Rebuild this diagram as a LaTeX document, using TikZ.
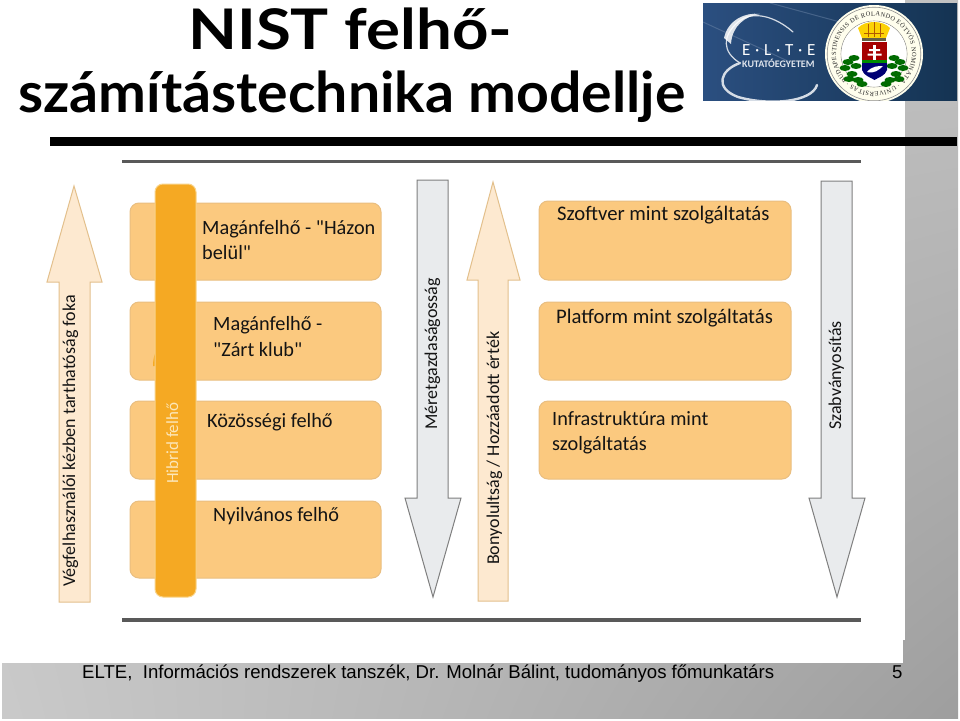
\documentclass[tikz,border=0pt]{standalone}
\usepackage{fontspec}
\setmainfont{Carlito}
\newfontfamily\carlito{Carlito}
\newfontfamily\titlefont{Lato}
\newfontfamily\footfont{Liberation Sans}
\newfontfamily\sealfont{Liberation Serif}
\usetikzlibrary{decorations.text,shadings}
\definecolor{boxfill}{HTML}{FBC97F}
\definecolor{boxline}{HTML}{E9BE80}
\definecolor{upfill}{HTML}{FDE9D0}
\definecolor{upline}{HTML}{E3C08C}
\definecolor{downfill}{HTML}{E9EBED}
\definecolor{downline}{HTML}{7F7F7F}
\definecolor{hybrid}{HTML}{F5A923}
\definecolor{hybridline}{HTML}{F9D48A}
\definecolor{hybridtext}{HTML}{FCE6B8}
\definecolor{rulegray}{HTML}{595959}
\definecolor{navyA}{HTML}{2B4F80}
\definecolor{navyB}{HTML}{143352}
\definecolor{txt}{HTML}{141414}
\tikzset{
  x=1pt,y=-1pt,
  cloudbox/.style={draw=boxline,line width=1pt,fill=boxfill,rounded corners=9pt},
  uparrow/.style={draw=upline,line width=1pt,fill=upfill,line join=miter},
  downarrow/.style={draw=downline,line width=1pt,fill=downfill,line join=miter},
  label/.style={anchor=base west,inner sep=0pt,text=txt,font=\carlito\fontsize{20.3}{24}\selectfont},
  widelabel/.style={label,font=\carlito\fontsize{20.7}{24}\selectfont},
  vlabel/.style={anchor=base west,inner sep=0pt,rotate=90,text=txt,font=\carlito\fontsize{18}{20}\selectfont},
  titletext/.style={anchor=base west,inner sep=0pt,text=black,font=\titlefont\bfseries\fontsize{56}{60}\selectfont},
  foottext/.style={anchor=base west,inner sep=0pt,text=black,font=\footfont\fontsize{18.6}{22}\selectfont},
}
\begin{document}
\begin{tikzpicture}
\useasboundingbox (0,0) rectangle (960,720);
% background
\fill[white] (0,0) rectangle (960,720);
\shade[lower left=black!21,upper left=black!25,upper right=black!24,lower right=black!38] (2,0) rectangle (958,718);
\fill[white] (2,0) rectangle (905,640);
\fill[white] (2,640) rectangle (903,663);
% logo
\shade[left color=navyA,right color=navyB] (703,3) rectangle (957,100);
\begin{scope}
\clip (703,3) rectangle (957,100);
\draw[navyA!70!white,line width=1pt,opacity=.5] (703,22) -- (790,62);
\draw[navyA!70!white,line width=1pt,opacity=.5] (770,3) -- (840,22);
\draw[white!80!navyA,line width=1.2pt,line cap=round]
  (793,32) .. controls (775,16) and (752,10) .. (738,22) .. controls (722,36) and (722,52) .. (740,63);
\draw[white!80!navyA,line width=2.4pt,line cap=round]
  (740,63) .. controls (720,70) and (714,88) .. (738,97) .. controls (770,106) and (812,102) .. (817,85);
\fill[white,opacity=.85] (724,38) .. controls (728,20) and (745,12) .. (760,14) .. controls (745,16) and (732,26) .. (731,44) -- cycle;
% seal
\fill[white!93!yellow] (874,54) circle (49);
\draw[black!45,line width=.6pt] (874,54) circle (46.8);
\draw[black!45,line width=.6pt] (874,54) circle (33);
\fill[white] (874,54) circle (32.6);
\path[postaction={decorate},decoration={text along path,text align={fit to path},
  text={|\sealfont\fontsize{6.4}{7}\selectfont\color{black!85}|BUDAPESTINENSIS DE ROLANDO EÖTVÖS NOMINATA · UNIVERSITAS ·}}]
  (874,54) ++(135:38) arc[start angle=135,end angle=493,radius=38];
% crown
\fill[yellow!70!orange] (862,38) -- (858,28) .. controls (865,20) and (883,20) .. (890,28) -- (886,38) -- cycle;
\draw[orange!70!black,line width=.5pt] (864,33)--(884,33) (868,24)--(868,37) (874,22)--(874,37) (880,24)--(880,37);
\fill[black!70!yellow] (862,38) rectangle (886,41);
% wreath
\foreach \a/\b in {845/68,848/62,852/74,856/66,849/79,858/80,854/58,862/84}
  \fill[green!42!black] (\a,\b) ellipse (5.5 and 3);
\foreach \a/\b in {903/68,900/62,896/74,892/66,899/79,890/80,894/58,886/84}
  \fill[green!42!black] (\a,\b) ellipse (5.5 and 3);
% shield
\fill[red!65!black] (862,42) rectangle (887,60);
\fill[white] (873.2,45) rectangle (875.8,60) (869,49) rectangle (880,51) (867.5,53.5) rectangle (881.5,55.5);
\fill[green!55!black] (862,60) rectangle (887,63);
\fill[blue!45!black] (862,63) -- (887,63) -- (887,70) .. controls (885,76) and (879,77) .. (874.5,80) .. controls (870,77) and (864,76) .. (862,70) -- cycle;
\fill[white] (867,72) .. controls (872,66) and (878,66) .. (883,66) .. controls (879,70) and (874,74) .. (867,72) -- cycle;
\end{scope}
\node[anchor=base west,inner sep=0pt,text=white,font=\carlito\fontsize{17}{18}\selectfont] (logoname) at (742,55) {E\;·\;L\;·\;T\;·\;E};
\node[anchor=base west,inner sep=0pt,text=white!85!navyA,font=\carlito\bfseries\fontsize{10}{11}\selectfont] (logosub) at (742,67) {KUTATÓEGYETEM};
% title
\node[titletext] (title1) at (188,49) {\resizebox{324pt}{\height}{NIST felhő-}};
\node[titletext] (title2) at (18,112) {\resizebox{667pt}{\height}{számítástechnika modellje}};
% rules
\fill[black] (50,137) rectangle (957,146);
\fill[rulegray] (122,160) rectangle (861,163);
\fill[rulegray] (122,618) rectangle (861,622);
% left boxes
\draw[cloudbox] (130,203) rectangle (381,280);
\draw[cloudbox] (130,302) rectangle (381,380);
\draw[cloudbox] (130,401) rectangle (381,479);
\draw[cloudbox] (130,501) rectangle (381,578);
% right boxes
\draw[cloudbox] (539,201) rectangle (791,280);
\draw[cloudbox] (539,302) rectangle (791,380);
\draw[cloudbox] (539,401) rectangle (791,479);
% arrows
\draw[uparrow] (59,602) -- (59,282) -- (47,282) -- (74,186) -- (102,282) -- (90,282) -- (90,602) -- cycle;
\draw[uparrow] (478,601) -- (478,280) -- (467,280) -- (493,182) -- (520,280) -- (508,280) -- (508,601) -- cycle;
\draw[downarrow] (417,180) -- (448,180) -- (448,498) -- (461,498) -- (433,597) -- (405,498) -- (417,498) -- cycle;
\draw[downarrow] (821,181) -- (852,181) -- (852,498) -- (865,498) -- (837,597) -- (809,498) -- (821,498) -- cycle;
% hybrid bar
\fill[hybrid] (156,366) -- (153,366) .. controls (153,358) and (155,352) .. (158,347) -- cycle;
\draw[hybridline,line width=1pt,fill=hybrid,rounded corners=8pt] (155,184) rectangle (196,597);
% labels
\node[label] (l1a) at (202,234) {Magánfelhő - "Házon};
\node[label] (l1b) at (202,259) {belül"};
\node[label] (l2a) at (213,330) {Magánfelhő -};
\node[label] (l2b) at (213,356) {"Zárt klub"};
\node[label] (l3) at (207,427) {Közösségi felhő};
\node[label] (l4) at (213,521) {Nyilvános felhő};
\node[widelabel] (r1) at (557,220) {Szoftver mint szolgáltatás};
\node[widelabel] (r2) at (556,323) {Platform mint szolgáltatás};
\node[label] (r3a) at (552,425) {Infrastruktúra mint};
\node[label] (r3b) at (552,450) {szolgáltatás};
\node[vlabel] (v1) at (75,587) {Végfelhasználói kézben tarthatóság foka};
\node[vlabel] (v2) at (437,430) {Méretgazdaságosság};
\node[vlabel] (v3) at (499,565) {Bonyolultság / Hozzáadott érték};
\node[vlabel] (v4) at (841,430) {Szabványosítás};
\node[vlabel,text=hybridtext,font=\carlito\fontsize{17}{20}\selectfont] (hb) at (178,484) {Hibrid felhő};
% footer
\node[foottext] (foot) at (82,678) {ELTE,\ \ Információs rendszerek tanszék, Dr. Molnár Bálint, tudományos főmunkatárs};
\node[foottext] (page) at (892,678) {5};
\end{tikzpicture}
\end{document}
